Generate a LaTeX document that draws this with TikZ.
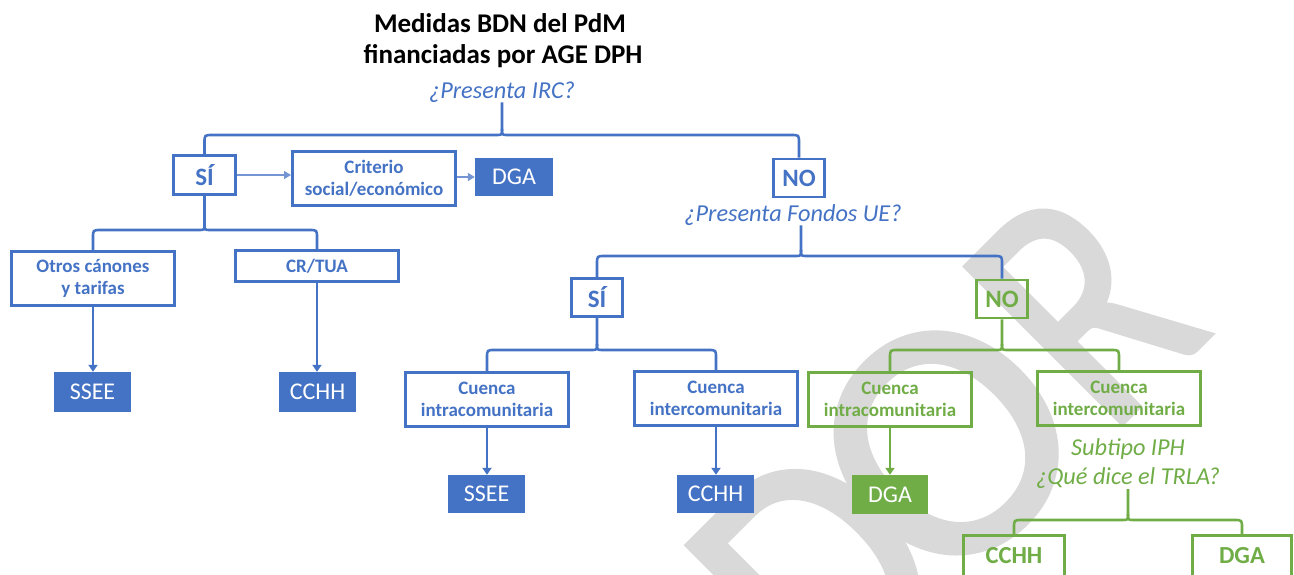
\documentclass[tikz,border=0pt]{standalone}
\usepackage{fontspec}
\setmainfont{Carlito}
\newfontfamily\wmfont[FakeBold=1.5]{Carlito}
\usetikzlibrary{arrows.meta,calc}
\definecolor{cblue}{HTML}{4472C4}
\definecolor{cgreen}{HTML}{70AD47}
\definecolor{wmgray}{HTML}{D9D9D9}
\newcommand\mybrace[5]{%
  \coordinate (hj) at (0,#5);
  \draw[brc=#1] (#2) -- ($(#2 |- hj)+(0,-6)$) .. controls (#2 |- hj) .. ($(#2 |- hj)+(-6,0)$)
     -- ($(#3 |- hj)+(8,0)$) .. controls (#3 |- hj) .. ($(#3 |- hj)+(0,8)$) -- (#3);
  \draw[brc=#1] ($(#2 |- hj)+(0,-6)$) .. controls (#2 |- hj) .. ($(#2 |- hj)+(6,0)$)
     -- ($(#4 |- hj)+(-8,0)$) .. controls (#4 |- hj) .. ($(#4 |- hj)+(0,8)$) -- (#4);
}
\begin{document}
\begin{tikzpicture}[x=1pt,y=-1pt,
  obox/.style={draw=#1, line width=2.6pt, text=#1, font=\bfseries\fontsize{19}{22.5}\selectfont,
     align=center, inner sep=0pt, minimum width=163.4pt, minimum height=54.4pt},
  fbox/.style={fill=#1, text=white, font=\fontsize{24}{28}\selectfont, inner sep=0pt,
     minimum width=77pt, minimum height=38pt},
  ans/.style={draw=#1, line width=2.6pt, text=#1, font=\bfseries\fontsize{25}{30}\selectfont,
     inner sep=0pt, minimum width=51.4pt, minimum height=38pt},
  brc/.style={draw=#1, line width=2.6pt},
  arr/.style={draw=#1, line width=2.8pt, -{Triangle[width=9pt,length=7pt]}},
  thinarr/.style={draw=cblue!75, line width=1.4pt, -{Triangle[width=8pt,length=7pt]}},
  qst/.style={text=#1, font=\itshape\fontsize{24.3}{29}\selectfont, inner sep=0pt, align=center},
  ttl/.style={font=\bfseries\fontsize{27}{32}\selectfont, inner sep=0pt, anchor=base},
  wm/.style={rotate=45, anchor=center, inner sep=0pt, text=wmgray, font=\wmfont\fontsize{345}{345}\selectfont}
]
\useasboundingbox (0,0) rectangle (1294,574);
\fill[white] (0,0) rectangle (1294,574);
% watermark letters
\node[wm, xscale=0.9] (wmd) at (818,571) {D};
\node[wm] (wmo) at (946,443) {O};
\node[wm, xscale=0.8] (wmr) at (1082.6,306.2) {R};

% title
\node[ttl] (t1) at (500,32) {Medidas BDN del PdM};
\node[ttl] (t2) at (503,63.5) {financiadas por AGE DPH};
\node[qst=cblue, anchor=base] (q1) at (502,98) {¿Presenta IRC?};

% level 1
\node[ans=cblue, minimum width=62pt, minimum height=39.4pt] (si1) at (204.5,175) {SÍ};
\node[obox=cblue] (crit) at (374,178.5) {Criterio\\social/económico};
\node[fbox=cblue, minimum width=78pt] (dga1) at (514,177) {DGA};
\node[ans=cblue] (no1) at (799,178) {NO};
\node[qst=cblue, anchor=base] (q2) at (793,221) {¿Presenta Fondos UE?};
\coordinate (st3) at ($(q2.south)+(8,0)$);

% left branch
\node[obox=cblue] (otros) at (93,278.5) {Otros cánones\\y tarifas};
\node[obox=cblue, minimum height=31.4pt] (crtua) at (317,266) {CR/TUA};
\node[fbox=cblue, minimum height=40pt] (ssee1) at (92.5,392) {SSEE};
\node[fbox=cblue, minimum height=40pt] (cchh1) at (317.5,392) {CCHH};

% middle
\node[ans=cblue] (si2) at (597,297.5) {SÍ};
\node[ans=cgreen] (no2) at (1002,299) {NO};
\node[obox=cblue] (cin1) at (487,399.5) {Cuenca\\intracomunitaria};
\node[obox=cblue] (cen1) at (716,398.5) {Cuenca\\intercomunitaria};
\node[fbox=cblue] (ssee2) at (486.5,494) {SSEE};
\node[fbox=cblue] (cchh2) at (715.5,494) {CCHH};

% green
\node[obox=cgreen] (cin2) at (890,399.5) {Cuenca\\intracomunitaria};
\node[obox=cgreen] (cen2) at (1119,398.5) {Cuenca\\intercomunitaria};
\node[fbox=cgreen, minimum width=76pt, minimum height=39pt] (dga3) at (890,494.5) {DGA};
\node[qst=cgreen] (q3) at (1128,464) {Subtipo IPH\\¿Qué dice el TRLA?};
\node[ans=cgreen, font=\bfseries\fontsize{24.5}{28}\selectfont, minimum width=101.4pt, minimum height=41pt] (cchh3) at (1014,556) {CCHH};
\node[ans=cgreen, font=\bfseries\fontsize{24.5}{28}\selectfont, minimum width=99.4pt, minimum height=41pt] (dga4) at (1242,556) {DGA};

% braces
\mybrace{cblue}{q1.south}{si1.north}{no1.north}{135}
\mybrace{cblue}{si1.south}{otros.north}{crtua.north}{230}
\mybrace{cblue}{st3}{si2.north}{no2.north}{256}
\mybrace{cblue}{si2.south}{cin1.north}{cen1.north}{350}
\mybrace{cgreen}{no2.south}{cin2.north}{cen2.north}{350}
\mybrace{cgreen}{q3.south}{cchh3.north}{dga4.north}{520}

% arrows
\draw[thinarr] (si1.east) -- (si1.east -| crit.west);
\draw[thinarr] (crit.east |- dga1.west) -- (dga1.west);
\draw[arr=cblue] (otros.south) -- (otros.south |- ssee1.north);
\draw[arr=cblue] (crtua.south) -- (crtua.south |- cchh1.north);
\draw[arr=cblue] (cin1.south) -- (cin1.south |- ssee2.north);
\draw[arr=cblue] (cen1.south) -- (cen1.south |- cchh2.north);
\draw[arr=cgreen] (cin2.south) -- (cin2.south |- dga3.north);
\end{tikzpicture}
\end{document}
